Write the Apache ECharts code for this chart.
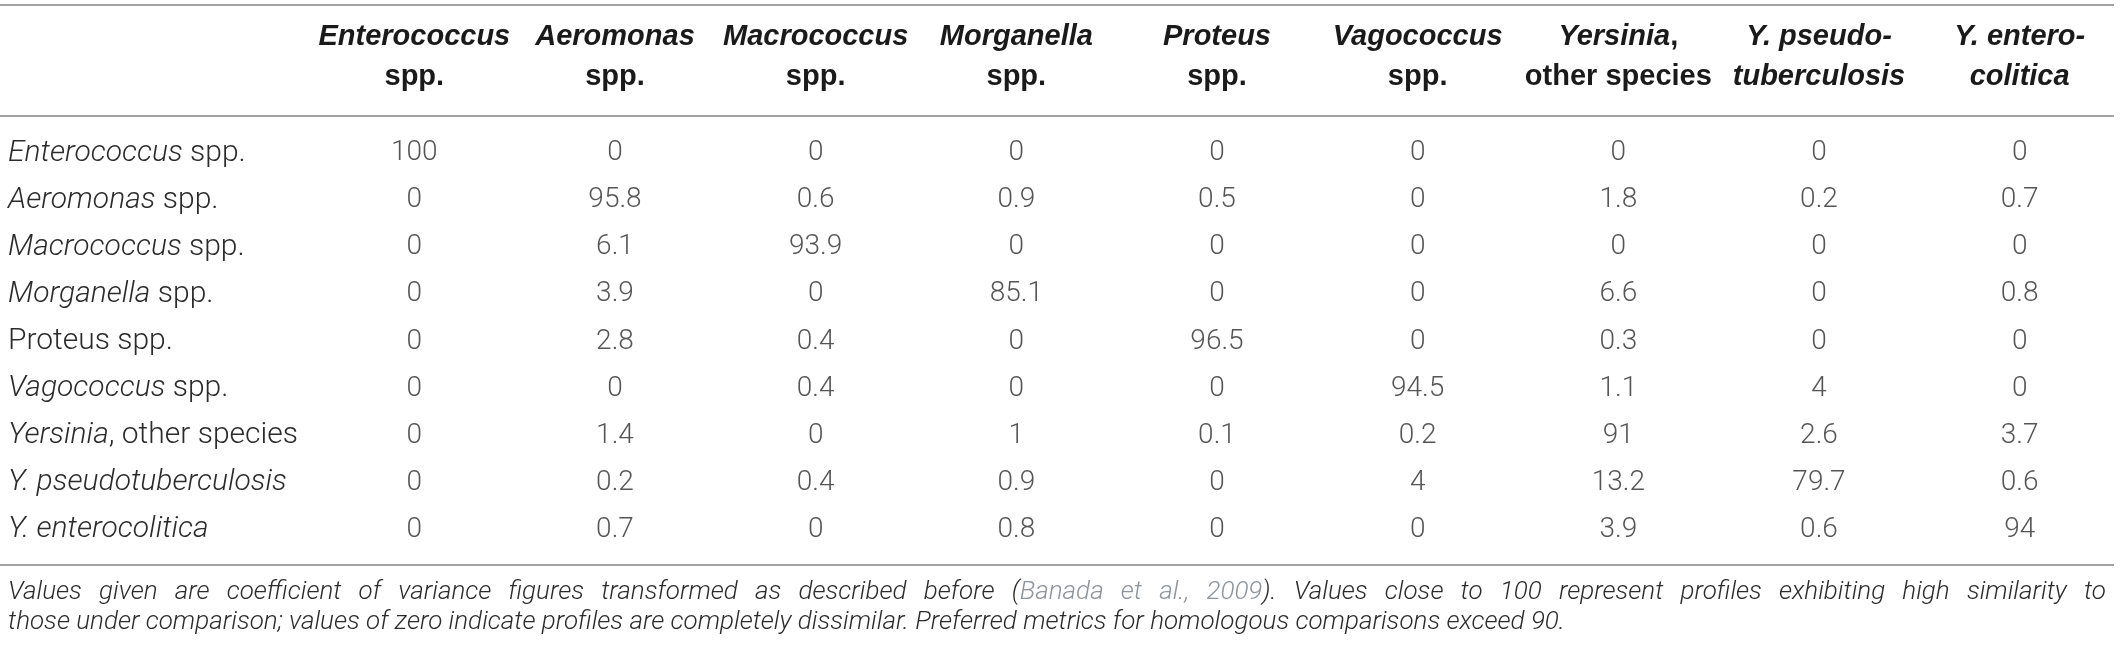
<!DOCTYPE html>
<html><head><meta charset="utf-8">
<script src="https://cdn.jsdelivr.net/npm/echarts@6/dist/echarts.min.js"></script>
<style>html,body{margin:0;padding:0;background:#fff}#c{width:2120px;height:652px}</style>
</head><body><div id="c"></div>
<script>
// ---- data ----
const columnKeys = ['Enterococcus spp.','Aeromonas spp.','Macrococcus spp.','Morganella spp.','Proteus spp.','Vagococcus spp.','Yersinia, other species','Y. pseudotuberculosis','Y. enterocolitica'];
const columnHeaderText = [
  '{bi|Enterococcus}\n{b|spp.}',
  '{bi|Aeromonas}\n{b|spp.}',
  '{bi|Macrococcus}\n{b|spp.}',
  '{bi|Morganella}\n{b|spp.}',
  '{bi|Proteus}\n{b|spp.}',
  '{bi|Vagococcus}\n{b|spp.}',
  '{bi|Yersinia}{b|,}\n{b|other species}',
  '{bi|Y. pseudo-}\n{bi|tuberculosis}',
  '{bi|Y. entero-}\n{bi|colitica}'
];
const rowLabels = ['Enterococcus spp.','Aeromonas spp.','Macrococcus spp.','Morganella spp.','Proteus spp.','Vagococcus spp.','Yersinia, other species','Y. pseudotuberculosis','Y. enterocolitica'];
const rowLabelText = [
  '{i|Enterococcus}{r| spp.}',
  '{i|Aeromonas}{r| spp.}',
  '{i|Macrococcus}{r| spp.}',
  '{i|Morganella}{r| spp.}',
  '{r|Proteus spp.}',
  '{i|Vagococcus}{r| spp.}',
  '{i|Yersinia}{r|, other species}',
  '{i|Y. pseudotuberculosis}',
  '{i|Y. enterocolitica}'
];
const rowEnterococcus   = [100, 0, 0, 0, 0, 0, 0, 0, 0];
const rowAeromonas      = [0, 95.8, 0.6, 0.9, 0.5, 0, 1.8, 0.2, 0.7];
const rowMacrococcus    = [0, 6.1, 93.9, 0, 0, 0, 0, 0, 0];
const rowMorganella     = [0, 3.9, 0, 85.1, 0, 0, 6.6, 0, 0.8];
const rowProteus        = [0, 2.8, 0.4, 0, 96.5, 0, 0.3, 0, 0];
const rowVagococcus     = [0, 0, 0.4, 0, 0, 94.5, 1.1, 4, 0];
const rowYersiniaOther  = [0, 1.4, 0, 1, 0.1, 0.2, 91, 2.6, 3.7];
const rowYPseudo        = [0, 0.2, 0.4, 0.9, 0, 4, 13.2, 79.7, 0.6];
const rowYEntero        = [0, 0.7, 0, 0.8, 0, 0, 3.9, 0.6, 94];
// footnote line 1: [text, isCitation]
const footnoteLine1 = [
  ['Values given are coefficient of variance figures transformed as described before (', false],
  ['Banada et al., 2009', true],
  ['). Values close to 100 represent profiles exhibiting high similarity to', false]
];
const footnoteLine2 = 'those under comparison; values of zero indicate profiles are completely dissimilar. Preferred metrics for homologous comparisons exceed 90.';

// ---- build ----
const rows = [rowEnterococcus,rowAeromonas,rowMacrococcus,rowMorganella,rowProteus,rowVagococcus,rowYersiniaOther,rowYPseudo,rowYEntero];
const cells = [];
rows.forEach((r, ri) => r.forEach((v, ci) => cells.push([ci, ri, v])));

const FONT = 'Roboto';
const HFONT = '"Liberation Sans", Arial, sans-serif';
const TXT = '#2b2b2b';
const NOTE_SIZE = 26;
const NOTE_FONT = 'italic 300 ' + NOTE_SIZE + 'px Roboto';
const LINE_RIGHT = 2106;

// justify footnote line 1 by widening the spaces
const ctx = document.createElement('canvas').getContext('2d');
ctx.font = NOTE_FONT;
const tokens = [];
footnoteLine1.forEach(([txt, cite]) => {
  const parts = txt.split(' ');
  parts.forEach((w, k) => {
    if (k > 0) tokens.push({sp: true});
    if (w.length) tokens.push({w, cite});
  });
});
const natural = tokens.reduce((s, t) => s + ctx.measureText(t.sp ? ' ' : t.w).width, 0);
const nSp = tokens.filter(t => t.sp).length;
const spW = ctx.measureText(' ').width + Math.max(0, (LINE_RIGHT - 8 - natural) / nSp);
const line1Rich = tokens.map(t => t.sp ? '{s| }' : (t.cite ? '{l|' + t.w + '}' : '{t|' + t.w + '}')).join('');

const chart = echarts.init(document.getElementById('c'), null, {renderer: 'canvas'});
const LINE = {stroke: '#a3a3a3', lineWidth: 2};
const noteStyle = {fontFamily: FONT, fontSize: NOTE_SIZE, fontWeight: 300, fontStyle: 'italic', fill: TXT};
const option = {
  backgroundColor: '#fff',
  animation: false,
  grid: {left: 314, width: 1806, top: 129.5, height: 424},
  xAxis: {
    type: 'category', position: 'top', data: columnKeys,
    axisLine: {show: false}, axisTick: {show: false}, splitLine: {show: false},
    axisLabel: {
      interval: 0, margin: 33, lineHeight: 40,
      formatter: (v, i) => columnHeaderText[i],
      rich: {
        bi: {fontFamily: HFONT, fontSize: 29, fontWeight: 'bold', fontStyle: 'italic', color: '#1a1a1a', lineHeight: 40},
        b: {fontFamily: HFONT, fontSize: 29, fontWeight: 'bold', color: '#1a1a1a', lineHeight: 40}
      }
    }
  },
  yAxis: {
    type: 'category', data: rowLabels, inverse: true,
    axisLine: {show: false}, axisTick: {show: false}, splitLine: {show: false},
    axisLabel: {
      align: 'left', margin: 306,
      formatter: (v, i) => rowLabelText[i],
      rich: {
        i: {fontFamily: FONT, fontSize: 30, fontWeight: 300, fontStyle: 'italic', color: TXT},
        r: {fontFamily: FONT, fontSize: 30, fontWeight: 300, color: TXT}
      }
    }
  },
  series: [{
    type: 'scatter', data: cells, symbolSize: 1,
    itemStyle: {color: 'rgba(0,0,0,0)'},
    label: {
      show: true, position: 'inside',
      formatter: p => String(p.value[2]),
      fontFamily: FONT, fontSize: 28, fontWeight: 300, color: TXT
    },
    emphasis: {disabled: true}
  }],
  graphic: [
    {type: 'line', shape: {x1: 0, y1: 5, x2: LINE_RIGHT + 8, y2: 5}, style: LINE, silent: true},
    {type: 'line', shape: {x1: 0, y1: 116, x2: LINE_RIGHT + 8, y2: 116}, style: LINE, silent: true},
    {type: 'line', shape: {x1: 0, y1: 565, x2: LINE_RIGHT + 8, y2: 565}, style: LINE, silent: true},
    {type: 'text', x: 8, y: 592, silent: true, style: {
      text: line1Rich, verticalAlign: 'middle',
      rich: {
        t: Object.assign({}, noteStyle),
        l: Object.assign({}, noteStyle, {fill: '#8c939c'}),
        s: Object.assign({}, noteStyle, {width: spW})
      }
    }},
    {type: 'text', x: 8, y: 622, silent: true, style: Object.assign({text: footnoteLine2, verticalAlign: 'middle'}, noteStyle)}
  ]
};
chart.setOption(option);
</script></body></html>
